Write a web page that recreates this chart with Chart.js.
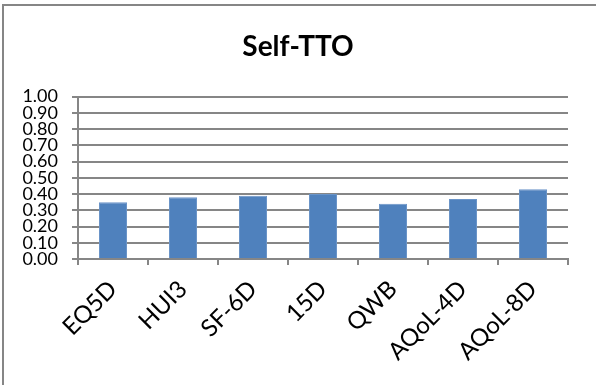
<!DOCTYPE html>
<html>
<head>
<meta charset="utf-8">
<script src="https://cdn.jsdelivr.net/npm/chart.js@4/dist/chart.umd.min.js"></script>
<style>
  html, body { margin: 0; padding: 0; background: #ffffff; }
  #wrap { position: relative; width: 596px; height: 385px; }
</style>
</head>
<body>
<div id="wrap"><canvas id="c" width="596" height="385"></canvas></div>
<script>
const categories = ['EQ5D', 'HUI3', 'SF-6D', '15D', 'QWB', 'AQoL-4D', 'AQoL-8D'];
const selfTTO = [0.35, 0.38, 0.39, 0.40, 0.34, 0.37, 0.43];
const yTicks = [0, 0.1, 0.2, 0.3, 0.4, 0.5, 0.6, 0.7, 0.8, 0.9, 1.0];

const GRID = '#868686';
const FONT = 'Lato, "Open Sans", sans-serif';

// Frame along the top and left edges of the chart object
const framePlugin = {
  id: 'frame',
  beforeDraw(chart) {
    const ctx = chart.ctx;
    ctx.save();
    ctx.fillStyle = '#ffffff';
    ctx.fillRect(0, 0, chart.width, chart.height);
    ctx.strokeStyle = GRID;
    ctx.lineWidth = 2;
    ctx.beginPath();
    ctx.moveTo(3, chart.height);
    ctx.lineTo(3, 5);
    ctx.lineTo(chart.width, 5);
    ctx.stroke();
    ctx.restore();
  }
};

new Chart(document.getElementById('c'), {
  type: 'bar',
  data: {
    labels: categories,
    datasets: [{
      label: 'Self-TTO',
      data: selfTTO,
      backgroundColor: '#4F81BD',
      borderColor: '#6A94C8',
      borderWidth: 1,
      barPercentage: 0.4,
      categoryPercentage: 1.0
    }]
  },
  options: {
    responsive: false,
    animation: false,
    devicePixelRatio: 1,
    layout: { padding: 0 },
    plugins: {
      legend: { display: false },
      tooltip: { enabled: false },
      title: {
        display: true,
        text: 'Self-TTO',
        color: '#000000',
        font: { family: FONT, size: 28, weight: 'bold', lineHeight: 1.2 },
        padding: { top: 30, bottom: 33 }
      }
    },
    scales: {
      x: {
        offset: true,
        grid: {
          offset: true,
          drawOnChartArea: false,
          drawTicks: true,
          tickLength: 6,
          color: GRID,
          lineWidth: 2
        },
        border: { display: true, color: GRID, width: 2 },
        ticks: {
          minRotation: 45,
          maxRotation: 45,
          autoSkip: false,
          padding: 10,
          color: '#000000',
          font: { family: FONT, size: 24 }
        },
        afterFit(scale) { scale.height = 126; }
      },
      y: {
        min: 0,
        max: 1,
        afterBuildTicks(scale) {
          scale.ticks = yTicks.map(v => ({ value: v }));
        },
        grid: {
          color: GRID,
          lineWidth: 2,
          drawTicks: true,
          tickLength: 6
        },
        border: { display: true, color: GRID, width: 2 },
        ticks: {
          autoSkip: false,
          padding: 14,
          color: '#000000',
          font: { family: FONT, size: 18, lineHeight: 1 },
          callback: v => Number(v).toFixed(2)
        },
        afterFit(scale) { scale.width = 78; }
      },
      // empty right-hand margin so the title stays centred on the whole chart
      yMargin: {
        position: 'right',
        display: true,
        grid: { display: false },
        border: { display: false },
        ticks: { display: false },
        afterFit(scale) { scale.width = 28; }
      }
    }
  },
  plugins: [framePlugin]
});
</script>
</body>
</html>
